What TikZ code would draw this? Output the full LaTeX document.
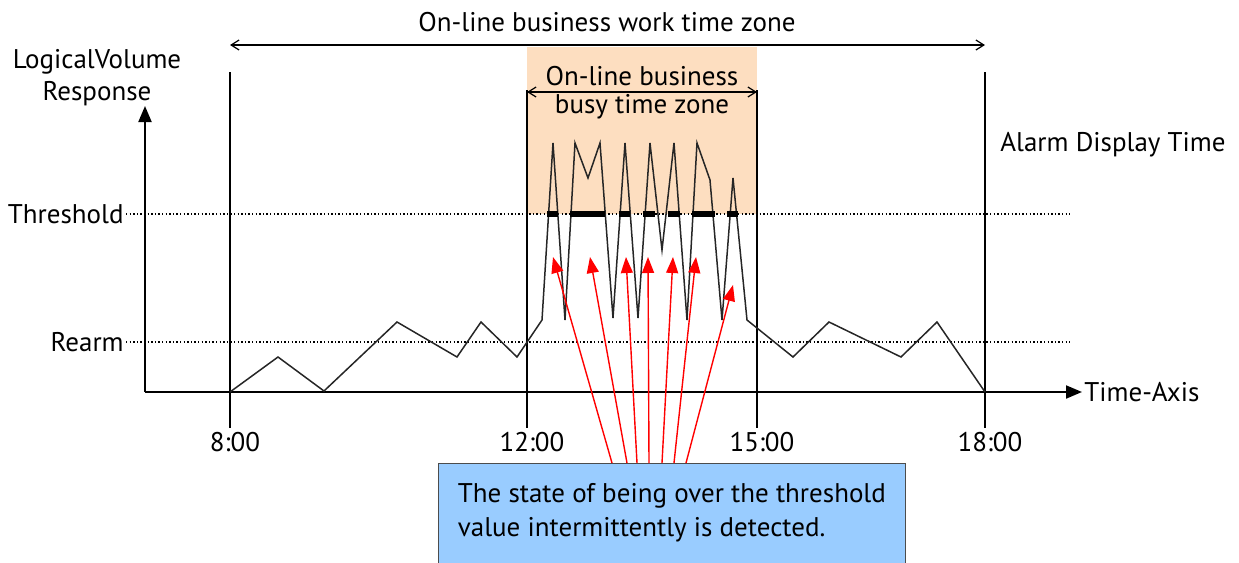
\documentclass[tikz,border=0pt]{standalone}
\usepackage{fontspec}
\setmainfont{PT Sans}
\usetikzlibrary{arrows.meta, positioning}
\definecolor{busyzone}{RGB}{253,222,192}
\definecolor{noteblue}{RGB}{153,204,255}

\begin{document}
\begin{tikzpicture}[
  x=0.5pt, y=-0.5pt,
  font=\fontsize{13.5}{15}\selectfont,
  grid/.style={line width=0.7pt},
  level/.style={line width=0.8pt, dash pattern=on 0.7pt off 1.1pt},
  span/.style={{Straight Barb[length=4pt, width=5pt]}-{Straight Barb[length=4pt, width=5pt]}, line width=0.6pt},
  axis/.style={-{Triangle[length=8pt, width=6.5pt]}, line width=1pt},
  curve/.style={line width=0.75pt, black!85},
  over/.style={line width=2.6pt},
  detect/.style={red, line width=0.7pt, -{Triangle[length=8pt, width=6pt]}},
  note/.style={draw=black!70, fill=noteblue, align=left, anchor=north west, minimum width=233.5pt,
    inner xsep=8.5pt, inner ysep=10pt, text depth=40pt, font=\fontsize{13.5}{17}\selectfont}
]
\useasboundingbox (0,0) rectangle (1239,563);

% busy zone
\fill[busyzone] (527,47) rectangle (757,214);

% time marks
\foreach \x/\top/\lab/\nm in {230/72/8:00/a, 527/90/12:00/b, 757/90/15:00/c, 985/72/18:00/d} {
  \coordinate (top\nm) at (\x,\top);
  \coordinate (bot\nm) at (\x,428);
  \node (lab\nm) at (\x+5,442) {\lab};
  \draw[grid] (top\nm) -- (bot\nm);
}

% levels
\node[anchor=east, inner sep=1pt] (thr) at (126,214) {Threshold};
\node[anchor=east, inner sep=1pt] (rearm) at (126,342) {Rearm};
\coordinate (thrend) at (1070,214);
\coordinate (rearmend) at (1070,342);
\draw[level] (thr.east) -- (thrend);
\draw[level] (rearm.east) -- (rearmend);

% axes
\coordinate (origin) at (145,392);
\coordinate (yend) at (145,106);
\coordinate (xend) at (1082,392);
\draw[axis] (origin) -- (yend);
\draw[axis] (origin) -- (xend);
\node[right=0pt of xend, inner sep=1pt] (xlab) {Time-Axis};
\node[align=center, inner sep=0pt] (ylab) at (97,78) {LogicalVolume\\[1pt]Response};

% zones
\coordinate (workl) at (230,45);
\coordinate (workr) at (985,45);
\draw[span] (workl) -- (workr);
\node (work) at (607,22) {On-line business work time zone};
\coordinate (busyl) at (527,92);
\coordinate (busyr) at (757,92);
\draw[span] (busyl) -- (busyr);
\node[align=center, inner sep=0pt] (busy) at (642,93) {On-line business\\[-1pt]busy time zone};
\node[anchor=west, inner sep=1pt] (alarm) at (998,145) {Alarm Display Time};

% response
\draw[curve] plot coordinates {(230,392) (278,357) (324,391) (397,322) (457,357) (481,322)
  (517,357) (542,320) (553,143) (565,320) (575,143) (588,178) (600,143) (613,318)
  (625,143) (638,318) (650,143) (662,250) (674,143) (687,320) (697,143) (710,180)
  (722,320) (733,178) (747,320) (793,357) (829,322) (901,357) (937,322) (985,392)};
\foreach \a/\b in {547/558, 570/605, 619/630, 643/655, 668/680, 692/715, 727/738}
  \draw[over] (\a,214) -- (\b,214);

% note
\node[note] (box) at (438,463) {The state of being over the threshold\\value intermittently is detected.};
\foreach \dx/\tx/\ty in {87/553/257, 94.5/590/257, 99.5/626/257, 105.5/648/257, 112/673/257, 118/696/257, 124/733/285}
  \draw[detect] ([xshift=\dx pt]box.north west) -- (\tx,\ty);
\end{tikzpicture}
\end{document}
